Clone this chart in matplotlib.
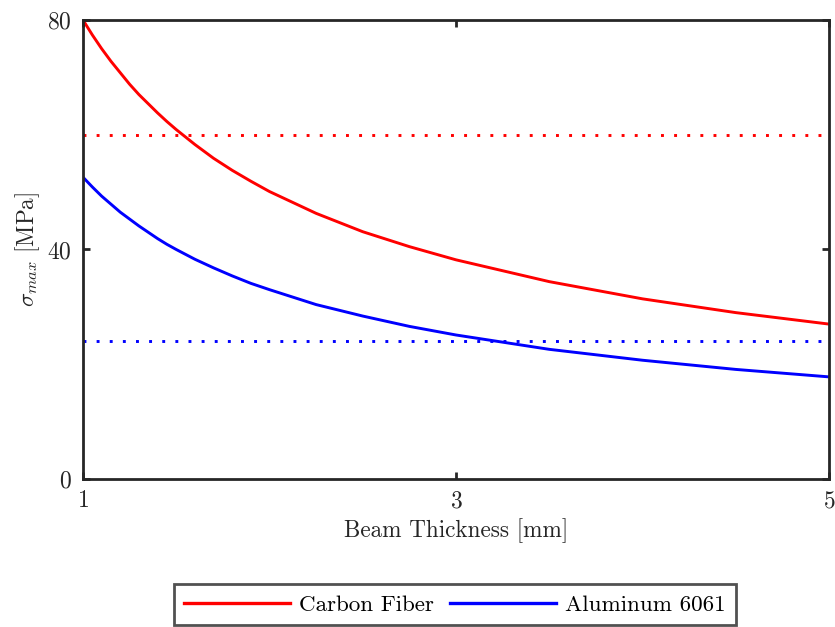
import matplotlib
matplotlib.use('Agg')
import matplotlib.pyplot as plt

# beam thickness [mm] and max stress [MPa]
thickness = [1.0, 1.05, 1.1, 1.15, 1.2, 1.25, 1.3, 1.35, 1.4, 1.45, 1.5, 1.6, 1.7, 1.8, 1.9,
             2.0, 2.25, 2.5, 2.75, 3.0, 3.5, 4.0, 4.5, 5.0]
carbon_fiber = [80.0, 77.4, 75.0, 72.8, 70.8, 68.8, 67.0, 65.4, 63.8, 62.3, 60.9, 58.3, 55.9, 53.8, 51.9,
                50.1, 46.3, 43.1, 40.5, 38.2, 34.4, 31.4, 29.0, 27.0]
aluminum = [52.6, 50.9, 49.3, 47.9, 46.5, 45.3, 44.1, 43.0, 41.9, 40.9, 40.0, 38.3, 36.8, 35.4, 34.1,
            33.0, 30.4, 28.4, 26.6, 25.1, 22.6, 20.7, 19.1, 17.8]
carbon_limit = 60
aluminum_limit = 24

x_ticks = [1, 3, 5]
y_ticks = [0, 40, 80]

plt.rcParams['font.family'] = 'serif'
plt.rcParams['font.serif'] = ['cmr10', 'DejaVu Serif']
plt.rcParams['mathtext.fontset'] = 'cm'
plt.rcParams['axes.formatter.use_mathtext'] = True
plt.rcParams['font.size'] = 17

fig = plt.figure(figsize=(8.35, 6.27), dpi=100)
ax = fig.add_axes([83 / 835, 1 - 479 / 627, (829 - 83) / 835, (479 - 20) / 627])

ax.plot(thickness, carbon_fiber, color='red', lw=2.1, label='Carbon Fiber')
ax.plot(thickness, aluminum, color='blue', lw=2.1, label='Aluminum 6061')
ax.plot([thickness[0], thickness[-1]], [carbon_limit, carbon_limit], color='red', lw=2.1,
        linestyle=(0, (1, 3.5)), dash_capstyle='butt')
ax.plot([thickness[0], thickness[-1]], [aluminum_limit, aluminum_limit], color='blue', lw=2.1,
        linestyle=(0, (1, 3.5)), dash_capstyle='butt')

ax.set_xlim(1, 5)
ax.set_ylim(0, 80)
ax.set_xticks(x_ticks)
ax.set_yticks(y_ticks)
ax.tick_params(direction='in', length=5, width=2, color='#262626', labelcolor='#262626',
               top=True, right=True, pad=8)
for s in ax.spines.values():
    s.set_linewidth(2)
    s.set_color('#262626')

ax.set_xlabel('Beam Thickness [mm]', color='#262626', labelpad=4, fontsize=16.7)
ax.set_ylabel(r'$\sigma_{max}$ [MPa]', color='#262626', labelpad=4, fontsize=16.7)

leg = fig.legend(loc='center', bbox_to_anchor=(455 / 835, 1 - 604.5 / 627), ncol=2, fontsize=16.6,
                 frameon=True, fancybox=False, edgecolor='#262626', handlelength=4.6,
                 columnspacing=0.7, handletextpad=0.4, borderpad=0.45, borderaxespad=0)
leg.get_frame().set_linewidth(2)
for line in leg.get_lines():
    line.set_linewidth(2.4)

fig.savefig('out.png', dpi=100)
